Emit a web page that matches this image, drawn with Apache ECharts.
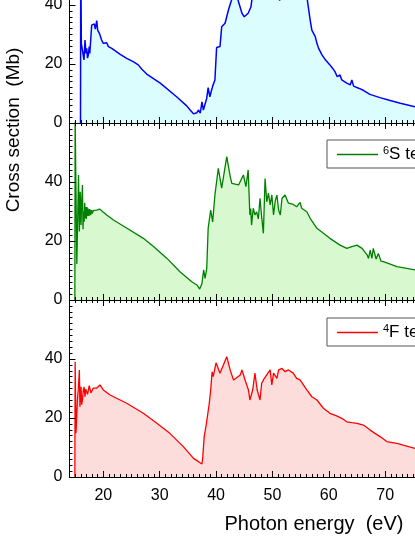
<!DOCTYPE html>
<html>
<head>
<meta charset="utf-8">
<script src="https://cdn.jsdelivr.net/npm/echarts@6.0.0/dist/echarts.min.js"></script>
<style>
    html, body {margin: 0; padding: 0; background: #fff;}
    #chart {width: 415px; height: 537px;}
</style>
</head>
<body>
<div id="chart"></div>
<script>
// photon energy (eV) and cross section (Mb)
const topEnergy = [15.95, 16.0, 16.1, 16.34, 16.57, 16.75, 16.93, 17.05, 17.2, 17.34, 17.5, 17.6, 17.94, 18.22, 18.4, 18.58, 18.83, 19.0, 19.3, 19.7, 20.0, 20.3, 20.6, 20.9, 21.5, 21.8, 23.0, 24.15, 25.3, 26.2, 26.8, 27.7, 30.1, 33.0, 34.8, 35.4, 36.0, 36.6, 36.9, 37.2, 37.5, 37.75, 38.35, 38.6, 38.9, 39.4, 39.65, 39.8, 40.1, 40.4, 40.7, 41.0, 41.3, 41.6, 42.2, 42.8, 43.3, 43.8, 44.0, 44.6, 45.0, 45.7, 46.2, 46.35, 47.0, 48.0, 49.0, 50.0, 51.3, 52.0, 53.0, 54.5, 55.5, 56.2, 56.7, 57.0, 57.6, 57.9, 58.2, 58.8, 59.4, 60.2, 60.7, 61.1, 61.5, 62.0, 62.3, 63.2, 63.8, 64.1, 64.4, 65.3, 66.2, 67.3, 69.1, 70.9, 72.7, 75.3, 78.0, 80.0];
const topSigma = [0, 58, 27, 26.4, 21.4, 28.1, 23.6, 25.3, 22.0, 23.1, 25.9, 23.6, 33.2, 32.6, 33.6, 31.8, 34.7, 31.5, 30.4, 28.1, 27.0, 26.4, 27.2, 25.9, 25.3, 24.7, 23.3, 21.9, 20.8, 19.7, 18.3, 16.6, 13.5, 8.9, 5.8, 4.4, 3.1, 3.5, 4.4, 3.3, 7.2, 4.4, 8.4, 12.0, 8.9, 12.5, 12.9, 14.6, 25.6, 25.0, 25.9, 32.6, 32.0, 33.8, 38.3, 42.0, 46, 42.5, 41.0, 37.2, 36.0, 37.2, 39.4, 41.7, 47, 50, 48, 45, 41.6, 45, 48, 49, 46, 41.7, 34.9, 31.5, 29.3, 27.0, 25.3, 23.1, 21.4, 19.7, 18.5, 17.4, 15.7, 16.3, 14.6, 13.5, 12.9, 14.6, 12.5, 11.8, 11.0, 9.7, 8.6, 7.6, 6.7, 5.5, 4.7, 4.2];

const sEnergy = [14.95, 15.0, 15.3, 15.6, 15.75, 15.9, 16.05, 16.15, 16.3, 16.4, 16.5, 16.6, 16.7, 16.8, 16.9, 17.0, 17.1, 17.2, 17.3, 17.45, 17.6, 17.75, 17.9, 18.05, 18.2, 18.8, 19.4, 19.9, 20.6, 21.8, 24.2, 27.1, 28.9, 31.3, 33.6, 35.7, 36.6, 37.1, 37.5, 37.8, 38.05, 38.35, 38.6, 39.05, 39.4, 39.8, 40.4, 41.0, 41.9, 42.5, 42.8, 43.1, 44.0, 44.85, 45.3, 45.7, 46.0, 46.15, 46.3, 46.6, 46.9, 47.2, 47.5, 47.8, 48.1, 48.4, 48.7, 49.0, 49.3, 49.6, 49.9, 50.2, 50.5, 50.8, 51.1, 51.4, 51.7, 52.25, 52.85, 53.7, 54.3, 54.9, 55.2, 56.1, 56.7, 57.9, 59.05, 60.2, 62.0, 63.2, 64.1, 65.0, 65.9, 66.8, 67.05, 67.35, 67.65, 67.9, 68.4, 68.8, 69.25, 69.7, 72.1, 75.3, 78.0, 80.0];
const sSigma = [0, 62, 12.2, 42.4, 23.2, 36.7, 25.4, 33.0, 39.0, 24.0, 30.0, 26.5, 33.0, 27.7, 31.5, 27.5, 31.5, 28.5, 31.0, 28.5, 30.8, 28.8, 30.5, 29.3, 30.3, 30.5, 30.8, 29.9, 28.8, 27.1, 24.3, 20.9, 18.1, 14.1, 9.6, 6.2, 5.1, 3.7, 5.6, 10.2, 7.3, 10.7, 24.3, 30.5, 26.5, 35.6, 44.6, 37.9, 48.6, 42.0, 39.5, 39.0, 39.0, 42.4, 38.4, 44.1, 28.8, 31.0, 25.4, 31.1, 28.8, 29.9, 27.5, 34.5, 28.0, 22.6, 41.2, 33.3, 36.2, 32.2, 35.6, 28.8, 33.5, 35.6, 30.5, 28.8, 34.5, 35.6, 32.8, 32.4, 31.6, 33.1, 31.1, 29.9, 27.7, 24.3, 22.6, 20.9, 18.6, 17.5, 18.1, 18.6, 17.5, 15.3, 14.1, 16.9, 14.1, 17.5, 13.9, 15.8, 13.2, 13.0, 11.3, 10.2, 9.2, 8.6];

const fEnergy = [14.95, 15.0, 15.15, 15.4, 15.55, 15.75, 15.85, 16.05, 16.15, 16.3, 16.45, 16.6, 16.75, 16.9, 17.05, 17.2, 17.35, 17.5, 17.65, 17.8, 17.95, 18.2, 18.8, 19.4, 20.0, 21.2, 24.15, 27.1, 29.5, 31.8, 34.2, 36.0, 36.9, 37.5, 37.65, 37.9, 38.25, 38.5, 38.8, 39.05, 39.3, 39.5, 40.0, 40.7, 41.3, 41.9, 42.5, 43.1, 44.3, 44.6, 45.15, 45.75, 46.0, 46.5, 46.9, 47.3, 47.8, 48.1, 48.4, 49.0, 49.6, 49.9, 50.2, 50.8, 51.1, 51.7, 52.25, 52.85, 53.7, 54.3, 54.9, 56.1, 57.0, 57.9, 59.05, 60.2, 61.4, 62.3, 63.2, 64.1, 65.0, 66.15, 67.35, 68.2, 69.1, 70.3, 72.1, 75.3, 78.0, 80.0];
const fSigma = [0, 39.1, 14.8, 26.1, 29.5, 36.3, 23.8, 30.6, 24.5, 26.1, 29.5, 30.5, 27.2, 29.8, 30.1, 28.0, 28.4, 31.0, 30.4, 28.5, 28.9, 30.1, 30.1, 31.2, 29.5, 27.8, 25.0, 21.6, 18.2, 14.8, 10.3, 6.3, 5.2, 4.4, 6.9, 13.7, 17.6, 18.2, 25.0, 29.5, 35.7, 34.0, 38.7, 35.2, 38.0, 40.8, 36.3, 32.9, 34.6, 36.3, 32.9, 29.5, 26.1, 29.5, 35.2, 29.5, 26.1, 31.8, 32.9, 34.6, 36.3, 31.2, 35.2, 33.4, 36.3, 36.8, 35.7, 36.3, 35.2, 33.4, 32.9, 29.5, 27.2, 26.1, 23.3, 21.6, 20.7, 19.9, 18.7, 18.4, 18.2, 17.6, 15.9, 14.8, 13.7, 12.0, 11.4, 9.7, 8.9, 8.3];

const majorTicks = [20, 30, 40, 50, 60, 70, 80];
const tickLabels = [20, 30, 40, 50, 60, 70];

const FONT = 'Liberation Sans, Arial, sans-serif';

const zip = (xs, ys) => xs.map((x, i) => [x, ys[i]]);

// two axes per side: one for the 1 eV minor ticks, one for the 10 eV major ticks
function energyAxes(grid, pos, withLabels) {
    return [{
        type: 'value', gridIndex: grid, position: pos, min: 14, max: 80, interval: 1, z: 10,
        axisLine: {show: true, onZero: false, lineStyle: {color: '#000', width: 1}},
        axisTick: {show: true, inside: true, length: 3, lineStyle: {color: '#000'}},
        axisLabel: {show: false},
        splitLine: {show: false}
    }, {
        type: 'value', gridIndex: grid, position: pos, min: 14, max: 80, z: 10,
        axisLine: {show: false, onZero: false},
        axisTick: {show: true, inside: true, length: 6, customValues: majorTicks, lineStyle: {color: '#000'}},
        axisLabel: withLabels ? {
            show: true, customValues: tickLabels, fontSize: 16, color: '#000', margin: 11, fontFamily: FONT
        } : {show: false},
        splitLine: {show: false}
    }];
}

function sigmaAxis(grid) {
    return {
        type: 'value', gridIndex: grid, position: 'left', min: 0, max: 60, interval: 20, z: 10,
        axisLine: {show: true, onZero: false, lineStyle: {color: '#000', width: 1}},
        axisTick: {show: true, inside: true, length: 6, lineStyle: {color: '#000'}},
        minorTick: {show: true, splitNumber: 10, length: 3, lineStyle: {color: '#000'}},
        axisLabel: {showMaxLabel: false, fontSize: 16, color: '#000', margin: 7, fontFamily: FONT},
        splitLine: {show: false},
        minorSplitLine: {show: false}
    };
}

function legendBox(name, sup, top) {
    return {
        data: [name], left: 327, top: top, selectedMode: false,
        padding: [5, 10, 5, 10], icon: 'rect', itemWidth: 41, itemHeight: 1.4, itemGap: 5,
        borderColor: '#555', borderWidth: 1, backgroundColor: '#fff',
        formatter: '{sup|' + sup + '}' + name.slice(1),
        textStyle: {
            fontSize: 17, color: '#000', fontFamily: FONT,
            rich: {sup: {fontSize: 11, color: '#000', fontFamily: FONT, padding: [0, 0, 8, 0]}}
        }
    };
}

function area(name, data, xIdx, yIdx, line, fill, width) {
    return {
        type: 'line', name: name, data: data, xAxisIndex: xIdx, yAxisIndex: yIdx,
        symbol: 'none', z: 2,
        lineStyle: {color: line, width: width},
        itemStyle: {color: line},
        areaStyle: {color: fill, opacity: 1}
    };
}

const chart = echarts.init(document.getElementById('chart'), null, {renderer: 'canvas'});

const option = {
    animation: false,
    textStyle: {fontFamily: FONT},
    grid: [
        {left: 69.5, width: 372, top: -54, height: 177, outerBoundsMode: 'none'},
        {left: 69.5, width: 372, top: 123, height: 177, outerBoundsMode: 'none'},
        {left: 69.5, width: 372, top: 300, height: 177, outerBoundsMode: 'none'}
    ],
    xAxis: [
        ...energyAxes(0, 'bottom', false),
        ...energyAxes(1, 'bottom', false),
        ...energyAxes(1, 'top', false),
        ...energyAxes(2, 'bottom', true),
        ...energyAxes(2, 'top', false)
    ],
    yAxis: [sigmaAxis(0), sigmaAxis(1), sigmaAxis(2)],
    legend: [
        legendBox('⁶S term', '6', 140),
        legendBox('⁴F term', '4', 318)
    ],
    series: [
        area('Ground term', zip(topEnergy, topSigma), 0, 0, '#0000ff', '#dcfdfd', 1.5),
        area('⁶S term', zip(sEnergy, sSigma), 2, 1, '#008000', '#d8f8d0', 1.3),
        area('⁴F term', zip(fEnergy, fSigma), 6, 2, '#ff0000', '#fddcdc', 1.3)
    ],
    graphic: [
        {
            type: 'text', x: 14, y: 130, rotation: Math.PI / 2,
            style: {text: 'Cross section  (Mb)', fontSize: 19, fontFamily: FONT, fill: '#000', align: 'center', verticalAlign: 'middle'}
        },
        {
            type: 'text', x: 314, y: 524,
            style: {text: 'Photon energy  (eV)', fontSize: 20, fontFamily: FONT, fill: '#000', align: 'center', verticalAlign: 'middle'}
        }
    ]
};

chart.setOption(option);
</script>
</body>
</html>
